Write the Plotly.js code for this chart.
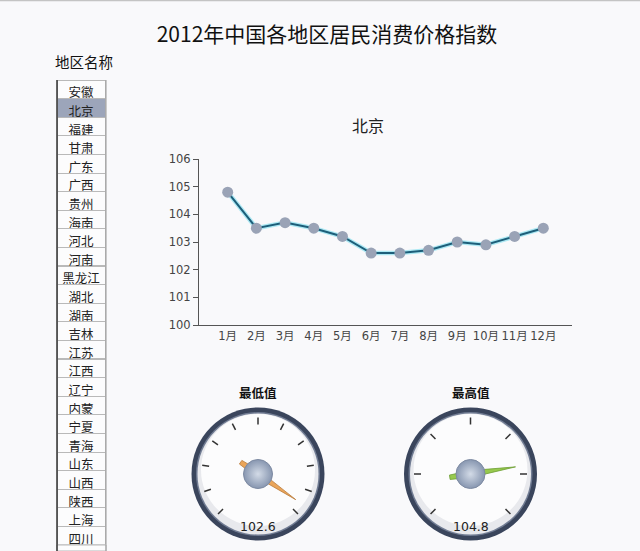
<!DOCTYPE html>
<html>
<head>
<meta charset="utf-8">
<script src="https://cdn.plot.ly/plotly-3.0.1.min.js"></script>
<style>
html,body{margin:0;padding:0;background:#f9f9fb;overflow:hidden;}
#chart{width:640px;height:551px;}
</style>
</head>
<body>
<div id="chart"></div>
<script>
// ---- data ----
const mainTitle = '2012年中国各地区居民消费价格指数';
const listTitle = '地区名称';
const regions = ['安徽','北京','福建','甘肃','广东','广西','贵州','海南','河北','河南','黑龙江','湖北','湖南','吉林','江苏','江西','辽宁','内蒙','宁夏','青海','山东','山西','陕西','上海','四川','天津','西藏','新疆','云南','浙江','重庆'];
const visibleRows = 25; // rows of the scrolling list that fit in the window
const selectedRegion = '北京';
const months = ['1月','2月','3月','4月','5月','6月','7月','8月','9月','10月','11月','12月'];
const cpi = [104.8, 103.5, 103.7, 103.5, 103.2, 102.6, 102.6, 102.7, 103.0, 102.9, 103.2, 103.5];
const yTickVals = [100, 101, 102, 103, 104, 105, 106];
const lowTitle = '最低值';
const highTitle = '最高值';
const lowScale = [93, 94, 95, 96, 97, 98, 99, 100, 101, 102, 103];
const highScale = [100, 101, 102, 103, 104, 105, 106];

// ---- helpers (pixel -> paper) ----
const W = 640, H = 551;
const px = x => x / W;
const py = y => 1 - y / H;

const minVal = Math.min(...cpi);
const maxVal = Math.max(...cpi);

const traces = [];
const shapes = [];
const annotations = [];
const layout = {
  width: W, height: H,
  margin: {l: 0, r: 0, t: 0, b: 0},
  paper_bgcolor: '#f9f9fb',
  plot_bgcolor: 'rgba(0,0,0,0)',
  showlegend: false,
  font: {family: 'Noto Sans CJK SC, DejaVu Sans, sans-serif', color: '#222'},
  title: {
    text: mainTitle, x: px(327), xanchor: 'center', y: py(35), yanchor: 'middle',
    font: {size: 21, color: '#111', family: 'Noto Sans CJK SC, sans-serif'}
  },
  xaxis: {
    domain: [px(199), px(572)], anchor: 'y',
    type: 'category', range: [-1, 12],
    showline: true, linecolor: '#555', linewidth: 1,
    showgrid: false, zeroline: false, ticks: '',
    tickfont: {size: 11.5, color: '#444', family: 'DejaVu Sans, Noto Sans CJK SC, sans-serif'},
    fixedrange: true
  },
  yaxis: {
    domain: [py(325), py(159)], anchor: 'x',
    range: [100, 106], tickvals: yTickVals,
    showline: true, linecolor: '#555', linewidth: 1,
    showgrid: false, zeroline: false,
    ticks: 'outside', ticklen: 5, tickcolor: '#555', tickwidth: 1,
    tickfont: {size: 11.5, color: '#444', family: 'DejaVu Sans, sans-serif'},
    fixedrange: true
  },
  shapes: shapes,
  annotations: annotations
};

// ---- region list (table) ----
const rowH = 18.6;
const shown = regions.slice(0, visibleRows);
traces.push({
  type: 'table',
  domain: {x: [px(57), px(106)], y: [py(80 + rowH * visibleRows), py(80 - rowH)]},
  columnwidth: [49],
  header: {
    values: [''], height: rowH,
    fill: {color: '#f9f9fb'}, line: {color: 'rgba(0,0,0,0)', width: 0},
    font: {size: 1, color: 'rgba(0,0,0,0)'}
  },
  cells: {
    values: [shown],
    height: rowH,
    align: 'center',
    fill: {color: [shown.map(r => r === selectedRegion ? '#9ca5ba' : '#fcfcfd')]},
    line: {color: '#b9b9b9', width: 1},
    font: {size: 12.5, color: '#222', family: 'Noto Sans CJK SC, sans-serif'}
  }
});
annotations.push({
  text: listTitle, xref: 'paper', yref: 'paper', x: px(84), y: py(61),
  xanchor: 'center', yanchor: 'middle', showarrow: false,
  font: {size: 14.5, color: '#111'}
});
const listBottom = 80 + rowH * visibleRows;
shapes.push({type: 'rect', xref: 'paper', yref: 'paper', x0: px(57), x1: px(106), y0: 0, y1: py(listBottom),
  fillcolor: '#fcfcfd', line: {color: '#b9b9b9', width: 1}, layer: 'above'});
shapes.push({type: 'line', xref: 'paper', yref: 'paper', x0: px(57), x1: px(57), y0: 0, y1: py(80),
  line: {color: '#333', width: 1.5}, layer: 'above'});
shapes.push({type: 'line', xref: 'paper', yref: 'paper', x0: px(106), x1: px(106), y0: 0, y1: py(80),
  line: {color: '#9a9a9a', width: 1}, layer: 'above'});
// top page border
shapes.push({type: 'line', xref: 'paper', yref: 'paper', x0: 0, x1: 1, y0: py(0.5), y1: py(0.5),
  line: {color: '#c4c4c4', width: 1.5}});

// ---- line chart ----
annotations.push({
  text: selectedRegion, xref: 'paper', yref: 'paper', x: px(368), y: py(125),
  xanchor: 'center', yanchor: 'middle', showarrow: false,
  font: {size: 16, color: '#222'}
});
traces.push({
  type: 'scatter', mode: 'lines', x: months, y: cpi, xaxis: 'x', yaxis: 'y',
  line: {color: 'rgba(140,225,240,0.7)', width: 4.5}, hoverinfo: 'skip'
});
traces.push({
  type: 'scatter', mode: 'lines+markers', x: months, y: cpi, xaxis: 'x', yaxis: 'y',
  line: {color: '#1d5f7a', width: 2},
  marker: {size: 11, color: '#9aa3b6', line: {width: 0}}
});

// ---- gauges ----
function addGauge(idx, cx, cy, title, value, scale, needleColor, needleEdge, halfW) {
  const lo = scale[0], hi = scale[scale.length - 1];
  const toTheta = v => (v - lo) / (hi - lo) * 270;
  const R = 57;
  const pid = idx === 1 ? 'polar' : 'polar' + idx;
  const circ = (r, fill) => shapes.push({
    type: 'circle', xref: 'paper', yref: 'paper', layer: 'below',
    x0: px(cx - r), x1: px(cx + r), y0: py(cy + r), y1: py(cy - r),
    fillcolor: fill, line: {color: 'rgba(0,0,0,0)', width: 0}
  });
  circ(66.5, '#3a455c');
  circ(62, '#717c93');
  circ(60.5, '#e8e9ed');
  shapes.push({
    type: 'circle', xref: 'paper', yref: 'paper', layer: 'below',
    x0: px(cx - 57), x1: px(cx + 57), y0: py(cy + 52), y1: py(cy - 60),
    fillcolor: '#fcfcfd', line: {width: 0}
  });
  layout[pid] = {
    domain: {x: [px(cx - R), px(cx + R)], y: [py(cy + R), py(cy - R)]},
    bgcolor: 'rgba(0,0,0,0)',
    radialaxis: {visible: false, range: [0, 1]},
    angularaxis: {
      rotation: 225, direction: 'clockwise', thetaunit: 'degrees',
      showline: false, showgrid: false, showticklabels: false,
      ticks: 'inside', ticklen: 7, tickwidth: 1.5, tickcolor: '#333',
      tickmode: 'array', tickvals: scale.map(toTheta)
    }
  };
  const t = toTheta(value);
  traces.push({
    type: 'scatterpolar', subplot: pid, mode: 'lines', fill: 'toself',
    r: [0.8, 0.06, 0.37, 0.37, 0.06, 0.8],
    theta: [t, t + 90, t + 180 - halfW, t + 180 + halfW, t - 90, t],
    fillcolor: needleColor, line: {color: needleEdge, width: 0.8}, hoverinfo: 'skip'
  });
  traces.push({
    type: 'scatterpolar', subplot: pid, mode: 'markers', r: [0], theta: [0],
    marker: {size: 29, color: '#8796b0', gradient: {type: 'radial', color: '#d3dbe7'},
      line: {color: '#7d8aa2', width: 1}}, hoverinfo: 'skip'
  });
  annotations.push({
    text: '<b>' + title + '</b>', xref: 'paper', yref: 'paper', x: px(cx), y: py(393),
    xanchor: 'center', yanchor: 'middle', showarrow: false, font: {size: 12.5, color: '#111'}
  });
  annotations.push({
    text: value.toFixed(1), xref: 'paper', yref: 'paper', x: px(cx), y: py(526),
    xanchor: 'center', yanchor: 'middle', showarrow: false,
    font: {size: 12.5, color: '#222', family: 'DejaVu Sans, sans-serif'}
  });
}
addGauge(1, 258, 474, lowTitle, minVal, lowScale, '#eaa55a', '#b97a3a', 6);
addGauge(2, 470.5, 474, highTitle, maxVal, highScale, '#97c94e', '#6d9e35', 6);

Plotly.newPlot('chart', traces, layout, {displayModeBar: false, staticPlot: true});
</script>
</body>
</html>
